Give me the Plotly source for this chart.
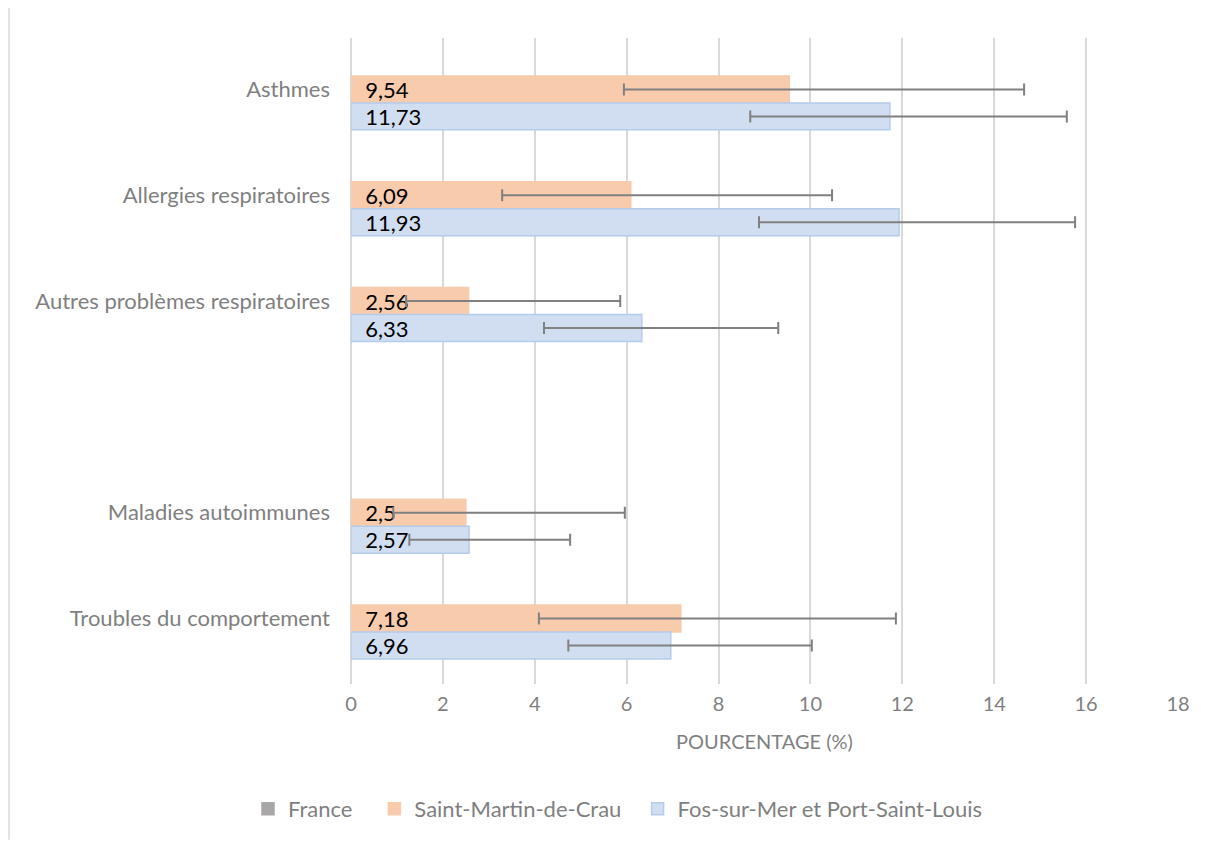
import plotly.graph_objects as go

categories = ["Asthmes", "Allergies respiratoires", "Autres problèmes respiratoires", " ",
              "Maladies autoimmunes", "Troubles du comportement"]
series_names = ["France", "Saint-Martin-de-Crau", "Fos-sur-Mer et Port-Saint-Louis"]
france_values = [None, None, None, None, None, None]
smc_values = [9.54, 6.09, 2.56, None, 2.5, 7.18]
smc_low = [5.94, 3.29, 1.2, None, 0.92, 4.09]
smc_high = [14.65, 10.47, 5.86, None, 5.96, 11.86]
fos_values = [11.73, 11.93, 6.33, None, 2.57, 6.96]
fos_low = [8.69, 8.88, 4.20, None, 1.27, 4.73]
fos_high = [15.58, 15.76, 9.30, None, 4.77, 10.03]
x_ticks = [0, 2, 4, 6, 8, 10, 12, 14, 16, 18]

FONT = "Lato"
GREY = "#7F7F7F"
NB = "\u00a0"

def lab(v):
    return "" if v is None else "  " + str(v).replace(".", ",")

def plus(vals, hi):
    return [None if v is None else h - v for v, h in zip(vals, hi)]

def minus(vals, lo):
    return [None if v is None else v - l for v, l in zip(vals, lo)]

fig = go.Figure()
fig.add_trace(go.Bar(
    name=series_names[0] + NB * 3, y=categories, x=france_values, orientation="h",
    marker=dict(color="#A9A6A6", line=dict(color="#A9A6A6", width=1.5)),
    showlegend=True))
fig.add_trace(go.Bar(
    name=series_names[1] + NB * 2, y=categories, x=smc_values, orientation="h",
    marker=dict(color="#F8CBAD", line=dict(color="#F8CBAD", width=1.5)),
    text=[lab(v) for v in smc_values], textposition="inside", insidetextanchor="start",
    constraintext="none", textfont=dict(color="black", size=22, family=FONT),
    error_x=dict(type="data", symmetric=False, array=plus(smc_values, smc_high),
                 arrayminus=minus(smc_values, smc_low), color="#808080", thickness=2, width=6)))
fig.add_trace(go.Bar(
    name=series_names[2], y=categories, x=fos_values, orientation="h",
    marker=dict(color="#D1DEF1", line=dict(color="#B4CCEA", width=1.5)),
    text=[lab(v) for v in fos_values], textposition="inside", insidetextanchor="start",
    constraintext="none", textfont=dict(color="black", size=22, family=FONT),
    error_x=dict(type="data", symmetric=False, array=plus(fos_values, fos_high),
                 arrayminus=minus(fos_values, fos_low), color="#808080", thickness=2, width=6)))

# page has an 8px body margin; work in figure coordinates
OFF = 8
W, H = 1215 - OFF, 841 - OFF
L, T = 351 - OFF, 38 - OFF
R = W - (1178 - OFF)
B = H - (685 - OFF)
pw, ph = W - L - R, H - T - B

def px_x(p):
    return (p - OFF - L) / pw

def px_y(p):
    return (H - B - (p - OFF)) / ph

fig.update_layout(
    width=W, height=H,
    margin=dict(l=L, r=R, t=T, b=B),
    barmode="group", bargap=0.236, bargroupgap=0,
    paper_bgcolor="white", plot_bgcolor="white",
    font=dict(family=FONT, color=GREY, size=20),
    xaxis=dict(range=[0, 18], tickvals=x_ticks, showgrid=True, gridcolor="#D9D9D9", gridwidth=2,
               zeroline=True, zerolinecolor="#D9D9D9", zerolinewidth=2, showline=False,
               tickfont=dict(size=20, color=GREY), ticklabelstandoff=6,
               title=dict(text="POURCENTAGE (%)", font=dict(size=20, color=GREY), standoff=20)),
    yaxis=dict(type="category", categoryorder="array", categoryarray=categories,
               range=[5.618, -0.486], showgrid=False, zeroline=False, showline=False,
               tickfont=dict(size=22, color=GREY), ticklabelstandoff=20),
    legend=dict(orientation="h", x=px_x(248), xanchor="left", y=px_y(809), yanchor="middle",
                font=dict(size=22, color=GREY), itemwidth=30, traceorder="normal"),
    shapes=[
        dict(type="line", xref="paper", yref="paper",
             x0=px_x(9), x1=px_x(9), y0=px_y(841), y1=px_y(7),
             line=dict(color="#D9D9D9", width=1.5), layer="below"),
        dict(type="line", xref="paper", yref="paper",
             x0=px_x(9), x1=px_x(1215), y0=px_y(7), y1=px_y(7),
             line=dict(color="#D9D9D9", width=1.5), layer="below"),
    ],
)

fig.write_html("out.html")
